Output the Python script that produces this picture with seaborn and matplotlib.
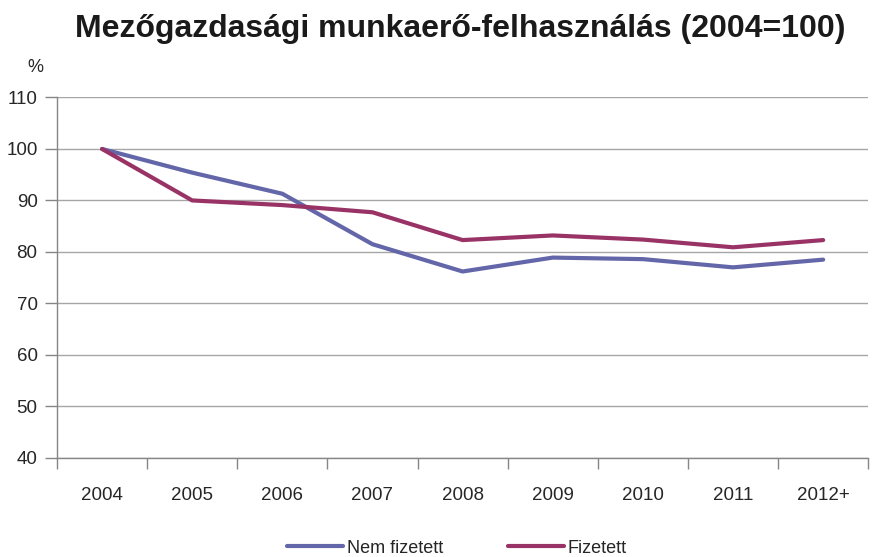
import numpy as np
import pandas as pd
import matplotlib.pyplot as plt
import seaborn as sns
from matplotlib.lines import Line2D

years = ['2004', '2005', '2006', '2007', '2008', '2009', '2010', '2011', '2012+']
nem_fizetett = [100, 95.4, 91.3, 81.5, 76.2, 78.9, 78.6, 77.0, 78.5]
fizetett = [100, 90.0, 89.1, 87.7, 82.3, 83.2, 82.4, 80.9, 82.3]

df = pd.DataFrame({
    'year': years * 2,
    'value': nem_fizetett + fizetett,
    'series': ['Nem fizetett'] * len(years) + ['Fizetett'] * len(years),
})

blue = '#6366a8'
purple = '#993366'

sns.set_style('white')
plt.rcParams['font.family'] = ['Liberation Sans', 'DejaVu Sans']

fig = plt.figure(figsize=(8.77, 5.57), dpi=100)
ax = fig.add_axes([0.065, 0.178, 0.925, 0.647])

sns.lineplot(data=df, x='year', y='value', hue='series', sort=False,
             palette={'Nem fizetett': blue, 'Fizetett': purple},
             linewidth=3, ax=ax, legend=False)

ax.set_xlim(-0.5, len(years) - 0.5)
ax.set_ylim(40, 110)
ax.set_yticks(range(40, 111, 10))
ax.yaxis.grid(True, color='#a6a6a6', linewidth=1)
ax.set_axisbelow(True)
ax.set_xticks(range(len(years)))
ax.set_xticklabels(years)
ax.set_xticks(np.arange(-0.5, len(years), 1), minor=True)
ax.tick_params(axis='x', which='major', length=0, pad=21, labelsize=13.5)
ax.tick_params(axis='x', which='minor', length=8, color='#868686', width=1, direction='out', bottom=True)
ax.tick_params(axis='y', length=9, color='#868686', width=1, direction='out', labelsize=13.5, pad=5, left=True)
for s in ['top', 'right']:
    ax.spines[s].set_visible(False)
for s in ['left', 'bottom']:
    ax.spines[s].set_color('#868686')
    ax.spines[s].set_linewidth(1)
ax.set_xlabel('')
ax.set_ylabel('')

fig.text(0.525, 0.948, 'Mezőgazdasági munkaerő-felhasználás (2004=100)', ha='center', va='center',
         fontsize=23, fontweight='bold', color='#1a1a1a')
fig.text(0.04, 0.878, '%', ha='center', va='center', fontsize=13)

handles = [Line2D([], [], color=blue, linewidth=3), Line2D([], [], color=purple, linewidth=3)]
fig.legend(handles, ['Nem fizetett', 'Fizetett'], loc='center', bbox_to_anchor=(0.521, 0.016),
           ncol=2, frameon=False, fontsize=13, handlelength=3.1, handletextpad=0.2, columnspacing=3.6)

fig.savefig('out.png', dpi=100)
